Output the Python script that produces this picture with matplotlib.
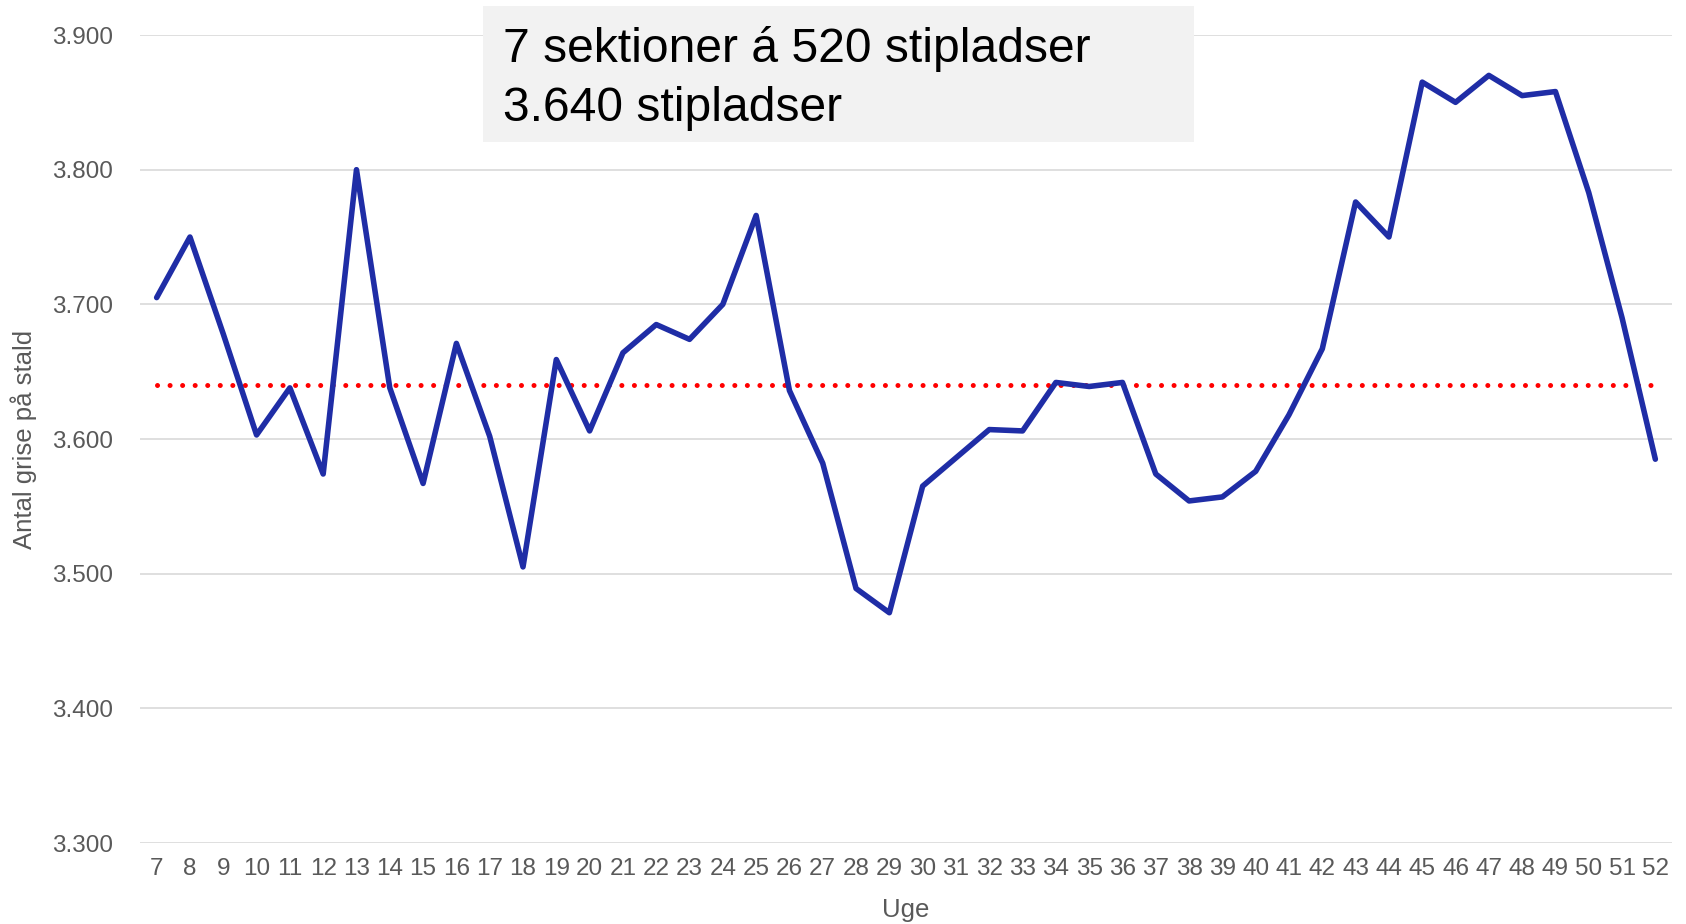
import matplotlib
matplotlib.use("Agg")
import matplotlib.pyplot as plt
from matplotlib.patches import Rectangle

plt.rcParams['font.family'] = ['Liberation Sans', 'DejaVu Sans']

# ---- data ----
weeks = list(range(7, 53))
pigs = [3705, 3750, 3678, 3603, 3638, 3574, 3800, 3638, 3567, 3671,
        3602, 3505, 3659, 3606, 3664, 3685, 3674, 3700, 3766, 3636,
        3582, 3489, 3471, 3565, 3586, 3607, 3606, 3642, 3639, 3642,
        3574, 3554, 3557, 3576, 3618, 3667, 3776, 3750, 3865, 3850,
        3870, 3855, 3858, 3783, 3690, 3585]
capacity = [3640] * len(weeks)
y_ticks = [3300, 3400, 3500, 3600, 3700, 3800, 3900]
y_tick_labels = ["3.300", "3.400", "3.500", "3.600", "3.700", "3.800", "3.900"]
box_lines = ["7 sektioner á 520 stipladser", "3.640 stipladser"]
x_title = "Uge"
y_title = "Antal grise på stald"

W, H = 1686, 924
fig = plt.figure(figsize=(W / 100, H / 100), dpi=100)
left, right, top, bottom = 140, 1672, 35, 843
ax = fig.add_axes([left / W, 1 - bottom / H, (right - left) / W, (bottom - top) / H])

pos = list(range(len(weeks)))
ax.plot(pos, capacity, color='#FF0000', linewidth=3.6,
        linestyle=(0, (0.01, 2.5)), dash_capstyle='round', zorder=3)
ax.plot(pos, pigs, color='#1F2DA6', linewidth=4.0,
        solid_joinstyle='round', solid_capstyle='round', zorder=4)

ax.set_xlim(-0.5, len(weeks) - 0.5)
ax.set_ylim(3300, 3900)
ax.set_xticks(pos)
ax.set_xticklabels([str(w) for w in weeks])
ax.set_yticks(y_ticks)
ax.set_yticklabels(y_tick_labels)

for s in ax.spines.values():
    s.set_visible(False)
ax.grid(axis='y', color='#D9D9D9', linewidth=1.2, zorder=0)
ax.set_axisbelow(True)
ax.tick_params(axis='both', length=0, labelsize=17.5, labelcolor='#595959')
ax.tick_params(axis='y', pad=19.5)
ax.tick_params(axis='x', pad=11)

ax.set_xlabel(x_title, fontsize=18.5, color='#595959', labelpad=13)
ax.set_ylabel(y_title, fontsize=18.5, color='#595959', labelpad=11)

# annotation box (figure pixel coordinates)
bx0, bx1, by0, by1 = 483, 1194, 6, 142
fig.add_artist(Rectangle((bx0 / W, 1 - by1 / H), (bx1 - bx0) / W, (by1 - by0) / H,
                         transform=fig.transFigure, facecolor='#F2F2F2',
                         edgecolor='none', zorder=5))
fig.text(503 / W, 1 - 62 / H, box_lines[0], fontsize=34.6, color='black',
         va='baseline', ha='left', zorder=6)
fig.text(503 / W, 1 - 121 / H, box_lines[1], fontsize=34.6, color='black',
         va='baseline', ha='left', zorder=6)

fig.savefig("out.png", dpi=100, facecolor='white')
